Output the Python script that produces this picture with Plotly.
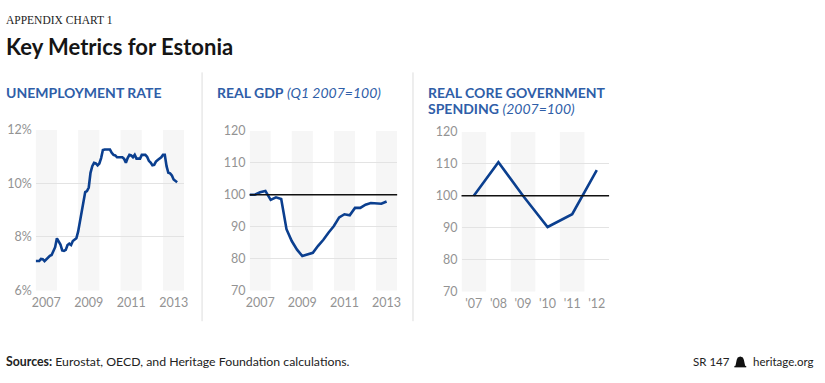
import plotly.graph_objects as go

W, H = 825, 383

# ---------------- data ----------------
unemp_start_year = 2007
unemployment = [7.1, 7.1, 7.1, 7.18, 7.17, 7.1, 7.17, 7.25, 7.3, 7.33, 7.45, 7.62,
                7.95, 7.85, 7.72, 7.5, 7.48, 7.52, 7.7, 7.75, 7.7, 7.85, 7.9, 7.95,
                8.2, 8.55, 8.95, 9.4, 9.68, 9.72, 9.85, 10.4, 10.65, 10.77, 10.75, 10.68,
                10.75, 10.95, 11.25, 11.27, 11.27, 11.27, 11.27, 11.15, 11.07, 11.05, 10.98, 10.98,
                10.98, 10.98, 10.92, 10.78, 10.95, 11.07, 11.05, 10.98, 11.07, 10.93, 10.93, 10.93,
                11.07, 11.07, 11.07, 11.0, 10.85, 10.78, 10.68, 10.7, 10.82, 10.88, 10.92, 10.98,
                11.07, 11.07, 10.65, 10.4, 10.38, 10.3, 10.15, 10.08, 10.05]

gdp_start_year = 2007
real_gdp = [100, 100, 100.8, 101.2, 98.4, 99.2, 98.7, 89.2, 85.5, 82.8, 80.8, 81.4,
            81.8, 84.0, 85.9, 88.2, 90.2, 92.9, 93.9, 93.6, 95.9, 95.9, 96.9, 97.4,
            97.4, 97.2, 97.9]

spend_years = ["'07", "'08", "'09", "'10", "'11", "'12"]
spending = [100, 110.5, 100, 90.2, 94.2, 108]

year_ticks = [2007, 2009, 2011, 2013]
unemp_ticks = [6, 8, 10, 12]
index_ticks = [70, 80, 90, 100, 110, 120]

# ---------------- styles ----------------
LINE = "#0b3f8f"
BLUE = "#2f5ea8"
GRID = "#e3e3e3"
STRIPE = "#f6f6f6"
TICK = "#939393"
FONT = "Lato"


def px(x, y):
    return x / W, 1 - y / H


unemp_x = [unemp_start_year + i / 12 for i in range(len(unemployment))]
gdp_x = [gdp_start_year + i / 4 for i in range(len(real_gdp))]

fig = go.Figure()
fig.add_trace(go.Scatter(x=unemp_x, y=unemployment, mode="lines",
                         line=dict(color=LINE, width=2.6), xaxis="x", yaxis="y",
                         hoverinfo="skip"))
fig.add_trace(go.Scatter(x=gdp_x, y=real_gdp, mode="lines",
                         line=dict(color=LINE, width=2.6), xaxis="x2", yaxis="y2",
                         hoverinfo="skip"))
fig.add_trace(go.Scatter(x=list(range(len(spending))), y=spending, mode="lines",
                         line=dict(color=LINE, width=2.6), xaxis="x3", yaxis="y3",
                         hoverinfo="skip"))

shapes = []
# stripes for panels 1 and 2 (years 2007..2013)
for xr, yr in (("x", "y domain"), ("x2", "y2 domain")):
    for yv in range(2007, 2014, 2):
        shapes.append(dict(type="rect", xref=xr, yref=yr, x0=yv, x1=yv + 1, y0=0, y1=1,
                           fillcolor=STRIPE, line=dict(width=0), layer="below"))
for i in range(0, len(spend_years), 2):
    shapes.append(dict(type="rect", xref="x3", yref="y3 domain", x0=i - 0.5, x1=i + 0.5,
                       y0=0, y1=1, fillcolor=STRIPE, line=dict(width=0), layer="below"))
# reference lines at 100
for xr, yr in (("x2 domain", "y2"), ("x3 domain", "y3")):
    shapes.append(dict(type="line", xref=xr, yref=yr, x0=0, x1=1, y0=100, y1=100,
                       line=dict(color="#111111", width=1.5)))
# panel separators
for sx in (200, 413):
    x0, y0 = px(sx, 67)
    _, y1 = px(sx, 326)
    shapes.append(dict(type="line", xref="paper", yref="paper", x0=x0, x1=x0, y0=y0, y1=y1,
                       line=dict(color="#dddddd", width=1)))
# bell icon in footer
bx, by = 743.5, 368
pts = [(bx - 5, by + 4.5), (bx - 4.5, by + 2.5), (bx - 3.6, by - 2), (bx - 2.6, by - 4.2),
       (bx, by - 5.2), (bx + 2.6, by - 4.2), (bx + 3.6, by - 2), (bx + 4.5, by + 2.5), (bx + 5, by + 4.5)]
path = "M " + " L ".join(f"{px(a, b)[0]:.5f},{px(a, b)[1]:.5f}" for a, b in pts) + " Z"
shapes.append(dict(type="path", xref="paper", yref="paper", path=path,
                   fillcolor="#111111", line=dict(width=0)))
shapes.append(dict(type="rect", xref="paper", yref="paper",
                   x0=px(bx - 6, 0)[0], x1=px(bx + 6, 0)[0],
                   y0=px(0, by + 6)[1], y1=px(0, by + 4.5)[1],
                   fillcolor="#111111", line=dict(width=0)))

annotations = []


def text(x, y, s, size, color="#111111", family=FONT, xanchor="left"):
    xp, yp = px(x, y)
    annotations.append(dict(x=xp, y=yp, xref="paper", yref="paper", text=s, showarrow=False,
                            xanchor=xanchor, yanchor="middle", align="left",
                            font=dict(size=size, color=color, family=family)))


text(0, 12, "APPENDIX CHART 1", 11.5, "#222222", "Liberation Serif")
text(0, 40, "<b>Key Metrics for Estonia</b>", 22, "#151515")
text(0, 88, "<b>UNEMPLOYMENT RATE</b>", 14, BLUE)
text(213, 88, "<b>REAL GDP</b> <i>(Q1 2007=100)</i>", 14, BLUE)
text(426, 88, "<b>REAL CORE GOVERNMENT</b>", 14, BLUE)
text(426, 105, "<b>SPENDING</b> <i>(2007=100)</i>", 14, BLUE)
text(0, 368, "<b>Sources:</b> Eurostat, OECD, and Heritage Foundation calculations.", 12.3, "#222222")
text(735, 368, "SR 147", 11.5, "#222222", xanchor="right")
text(820, 368, "heritage.org", 11.5, "#222222", xanchor="right")

tickfont = dict(family=FONT, size=12.5, color=TICK)


def xdom(a, b):
    return [a / W, b / W]


def ydom(top, bottom):
    return [1 - bottom / H, 1 - top / H]


common_y = dict(showgrid=True, gridcolor=GRID, gridwidth=1, zeroline=False, showline=False,
                ticks="", tickfont=tickfont, fixedrange=True, ticklabelstandoff=3)
common_x = dict(showgrid=False, zeroline=False, showline=False, ticks="", tickfont=tickfont,
                fixedrange=True, ticklabelstandoff=3)

fig.update_layout(
    width=W, height=H, margin=dict(l=0, r=0, t=0, b=0),
    paper_bgcolor="white", plot_bgcolor="white", showlegend=False,
    shapes=shapes, annotations=annotations,
    xaxis=dict(domain=xdom(32, 182), range=[2007, 2014], anchor="y",
               tickvals=[t + 0.5 for t in year_ticks], ticktext=[str(t) for t in year_ticks],
               **common_x),
    yaxis=dict(domain=ydom(127, 294), range=[6, 12], anchor="x",
               tickvals=unemp_ticks, ticktext=[f"{t}%" for t in unemp_ticks], **common_y),
    xaxis2=dict(domain=xdom(248, 397), range=[2007, 2014], anchor="y2",
                tickvals=[t + 0.5 for t in year_ticks], ticktext=[str(t) for t in year_ticks],
                **common_x),
    yaxis2=dict(domain=ydom(128, 294), range=[70, 120], anchor="x2",
                tickvals=index_ticks, **common_y),
    xaxis3=dict(domain=xdom(462, 611), range=[-0.5, len(spend_years) - 0.5], anchor="y3",
                tickvals=list(range(len(spend_years))), ticktext=spend_years, **common_x),
    yaxis3=dict(domain=ydom(129, 295), range=[70, 120], anchor="x3",
                tickvals=index_ticks, **common_y),
)

fig.write_html("out.html", config={"displayModeBar": False},
               post_script="document.body.style.margin='0';document.body.style.overflow='hidden';")
